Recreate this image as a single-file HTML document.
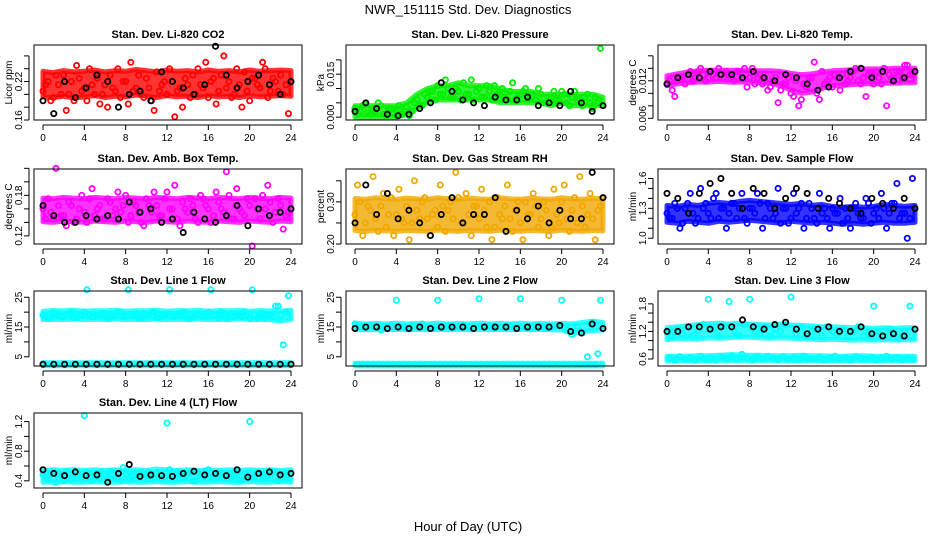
<!DOCTYPE html>
<html><head><meta charset="utf-8"><style>
html,body{margin:0;padding:0;background:#fff;}
svg{display:block;font-family:"Liberation Sans",sans-serif;}
</style></head><body>
<svg id="chart" width="936" height="540" viewBox="0 0 936 540">
<rect width="936" height="540" fill="#fff"/>
<text x="468" y="14" font-size="13" text-anchor="middle">NWR_151115  Std. Dev. Diagnostics</text>
<text x="468" y="531" font-size="13" text-anchor="middle">Hour of Day (UTC)</text>
</svg>
<script>
const xTicks=[0,4,8,12,16,20,24];
const titles=["Stan. Dev. Li-820 CO2","Stan. Dev. Li-820 Pressure","Stan. Dev. Li-820 Temp.","Stan. Dev. Amb. Box Temp.","Stan. Dev. Gas Stream RH","Stan. Dev. Sample Flow","Stan. Dev. Line 1 Flow","Stan. Dev. Line 2 Flow","Stan. Dev. Line 3 Flow","Stan. Dev. Line 4 (LT) Flow"];
const yTitles=["Licor ppm","kPa","degrees C","degrees C","percent","ml/min","ml/min","ml/min","ml/min","ml/min"];
const yRanges=[[0.16,0.277],[-0.001,0.0252],[0.00573,0.01773],[0.108,0.219],[0.20,0.378],[0.942,1.695],[1.9,27.1],[1.9,27.1],[0.447,2.08],[0.303,1.316]];
const yTickVals=[[0.16,0.18,0.20,0.22,0.24,0.26],[0,0.005,0.010,0.015,0.020],[0.006,0.008,0.010,0.012,0.014,0.016],[0.12,0.14,0.16,0.18,0.20,0.22],[0.20,0.25,0.30,0.35],[1.0,1.1,1.2,1.3,1.4,1.5,1.6],[5,10,15,20,25],[5,10,15,20,25],[0.6,0.8,1.0,1.2,1.4,1.6,1.8],[0.4,0.6,0.8,1.0,1.2]];
const yTickLabels=[["0.16","","","0.22","",""],["0.000","","","0.015",""],["0.006","","","0.012","",""],["0.12","","","0.18","",""],["0.20","","0.30",""],["1.0","","","1.3","","","1.6"],["5","","15","","25"],["5","","15","","25"],["0.6","","","1.2","","","1.8"],["0.4","","0.8","","1.2"]];
const colors=["#ff0000","#00ee00","#ff00ff","#ff00ff","#f0a800","#0000ff","#00ffff","#00ffff","#00ffff","#00ffff"];
// hourly extent of the dense point cloud (hours 0..24)
const bandLo=[
[.196,.195,.197,.194,.196,.198,.195,.197,.196,.199,.197,.195,.198,.196,.197,.195,.198,.196,.197,.195,.198,.196,.197,.198,.197],
[.000,.000,.000,.000,.000,.001,.003,.005,.006,.006,.006,.006,.006,.006,.005,.005,.005,.005,.005,.004,.005,.004,.004,.004,.004],
[.0112,.0115,.0117,.0118,.0118,.0119,.0118,.0118,.0118,.0117,.0116,.0112,.0105,.0100,.0102,.0108,.0112,.0113,.0114,.0115,.0115,.0116,.0116,.0117,.0117],
[.141,.140,.142,.141,.140,.142,.141,.140,.142,.141,.140,.142,.141,.140,.142,.141,.140,.142,.141,.140,.142,.141,.140,.142,.141],
[.232,.230,.233,.231,.230,.232,.231,.230,.233,.231,.230,.232,.231,.230,.233,.231,.230,.232,.231,.230,.233,.231,.230,.232,.231],
[1.16,1.15,1.17,1.16,1.15,1.17,1.16,1.17,1.18,1.17,1.16,1.15,1.17,1.16,1.15,1.16,1.15,1.14,1.15,1.14,1.15,1.16,1.15,1.15,1.16],
[17.5,17.6,17.5,17.7,17.5,17.6,17.5,17.7,17.5,17.6,17.5,17.7,17.5,17.6,17.5,17.7,17.5,17.6,17.5,17.7,17.5,17.6,17.5,17.0,17.6],
[14.2,14.1,14.2,14.1,14.2,14.1,14.2,14.1,14.2,14.1,14.2,14.1,14.2,14.1,14.2,14.1,14.2,14.1,14.2,14.1,14.0,13.0,13.5,13.8,14.0],
[1.02,1.05,1.04,1.03,1.06,1.05,1.06,1.08,1.07,1.06,1.05,1.06,1.05,1.04,1.03,1.02,1.03,1.02,1.01,1.02,1.01,1.02,1.01,1.02,1.02],
[.38,.38,.39,.38,.38,.39,.38,.38,.39,.38,.38,.39,.38,.38,.39,.38,.38,.39,.38,.38,.39,.38,.38,.39,.38]];
const bandHi=[
[.236,.234,.237,.235,.236,.238,.235,.237,.236,.239,.237,.235,.238,.236,.237,.235,.238,.236,.237,.235,.238,.236,.237,.238,.237],
[.004,.004,.004,.004,.004,.005,.008,.010,.011,.011,.012,.011,.011,.011,.010,.009,.009,.009,.008,.008,.008,.008,.008,.008,.007],
[.0128,.0131,.0134,.0136,.0137,.0137,.0137,.0137,.0136,.0136,.0136,.0135,.0132,.0130,.0131,.0134,.0136,.0137,.0138,.0139,.0139,.0139,.0140,.0140,.0140],
[.176,.175,.177,.176,.175,.177,.176,.175,.177,.176,.175,.177,.176,.175,.177,.176,.175,.177,.176,.175,.177,.176,.175,.177,.176],
[.308,.306,.310,.307,.306,.309,.307,.306,.310,.307,.306,.309,.307,.306,.310,.307,.306,.309,.307,.306,.310,.307,.306,.309,.307],
[1.33,1.32,1.34,1.33,1.35,1.36,1.35,1.37,1.38,1.37,1.36,1.35,1.34,1.35,1.33,1.34,1.32,1.31,1.32,1.31,1.32,1.34,1.33,1.32,1.33],
[20.3,20.5,20.4,20.6,20.3,20.5,20.4,20.6,20.3,20.5,20.4,20.6,20.3,20.5,20.4,20.6,20.3,20.5,20.4,20.6,20.3,20.5,20.4,20.3,20.6],
[16.3,16.0,16.2,16.0,16.3,16.0,16.2,16.0,16.3,16.0,16.2,16.0,16.3,16.0,16.2,16.0,16.3,16.0,16.2,16.0,16.2,16.0,16.5,17.0,16.5],
[1.28,1.30,1.32,1.35,1.37,1.38,1.36,1.38,1.36,1.35,1.34,1.36,1.34,1.33,1.32,1.30,1.30,1.29,1.28,1.28,1.27,1.28,1.27,1.28,1.28],
[.54,.55,.54,.55,.54,.55,.54,.55,.54,.55,.54,.56,.55,.54,.55,.54,.55,.54,.55,.54,.55,.54,.55,.54,.55]];
const band2Lo=[null,null,null,null,null,null,
[2.0,2.0,2.0,2.0,2.0,2.0,2.0,2.0,2.0,2.0,2.0,2.0,2.0,2.0,2.0,2.0,2.0,2.0,2.0,2.0,2.0,2.0,2.0,2.0,2.0],
[1.95,1.95,1.95,1.95,1.95,1.95,1.95,1.95,1.95,1.95,1.95,1.95,1.95,1.95,1.95,1.95,1.95,1.95,1.95,1.95,1.95,1.95,1.95,1.95,1.95],
[0.56,0.56,0.56,0.56,0.56,0.57,0.57,0.57,0.57,0.57,0.57,0.57,0.56,0.56,0.56,0.56,0.56,0.56,0.56,0.56,0.56,0.56,0.56,0.56,0.56],
null];
const band2Hi=[null,null,null,null,null,null,
[3.0,3.0,3.0,3.0,3.0,3.0,3.0,3.0,3.0,3.0,3.0,3.0,3.0,3.0,3.0,3.0,3.0,3.0,3.0,3.0,3.0,3.0,3.0,3.0,3.0],
[2.8,2.8,2.8,2.8,2.8,2.8,2.8,2.8,2.8,2.8,2.8,2.8,2.8,2.8,2.8,2.8,2.8,2.8,2.8,2.8,2.8,2.8,2.8,2.8,2.8],
[0.66,0.66,0.66,0.67,0.67,0.68,0.69,0.69,0.68,0.68,0.67,0.67,0.67,0.68,0.67,0.67,0.66,0.66,0.67,0.67,0.66,0.66,0.66,0.66,0.66],
null];
const seriesA=[
[0.205,0.22,0.195,0.215,0.23,0.20,0.19,0.225,0.21,0.24,0.20,0.185,0.215,0.23,0.205,0.195,0.22,0.25,0.21,0.20,0.225,0.19,0.235,0.215,0.20,0.22,0.205,0.18,0.215,0.23,0.24,0.21,0.195,0.225,0.205,0.26,0.22,0.20,0.215,0.235,0.19,0.225,0.21,0.24,0.205,0.22,0.23,0.215],
[.003,.002,.0045,.001,.002,.004,.0005,.003,.002,.001,.0035,.002,.006,.004,.007,.009,.011,.008,.010,.007,.009,.012,.008,.006,.010,.007,.009,.011,.008,.007,.009,.006,.008,.010,.007,.006,.008,.005,.007,.006,.009,.005,.007,.006,.004,.008,.003,.005],
[.0115,.0105,.012,.0125,.013,.012,.0135,.013,.0125,.013,.014,.0125,.013,.012,.0135,.014,.0125,.0115,.013,.012,.011,.0125,.0105,.0115,.010,.012,.009,.011,.0125,.010,.0135,.012,.011,.0125,.013,.012,.0135,.012,.0125,.013,.0115,.0125,.014,.013,.0125,.0135,.0145,.013],
[.16,.175,.145,.165,.15,.17,.14,.16,.155,.175,.15,.165,.145,.17,.16,.155,.18,.15,.165,.14,.175,.155,.165,.15,.185,.16,.145,.17,.155,.165,.14,.175,.16,.15,.17,.155,.18,.145,.16,.15,.165,.175,.145,.16,.17,.155,.165,.15],
[.27,.30,.25,.28,.26,.29,.24,.31,.27,.26,.29,.25,.28,.30,.26,.27,.24,.29,.28,.26,.31,.25,.27,.29,.26,.28,.30,.24,.27,.29,.26,.28,.25,.30,.27,.29,.26,.28,.24,.27,.30,.26,.28,.25,.29,.27,.26,.28],
[1.25,1.2,1.3,1.15,1.35,1.25,1.2,1.3,1.25,1.4,1.2,1.3,1.25,1.35,1.3,1.2,1.3,1.25,1.35,1.2,1.3,1.25,1.15,1.3,1.2,1.25,1.35,1.2,1.3,1.15,1.25,1.2,1.3,1.25,1.15,1.2,1.3,1.25,1.2,1.35,1.25,1.2,1.3,1.25,1.35,1.2,1.25,1.2],
[19,18,20,19,18.5,19.5,18,19,20,19,18.5,19,19.5,18,19,20,18.5,19,19.5,18,19,20,18,19,19.5,18.5,19,20,18,19,19,18.5,20,19,18,19.5,19,18.5,19,20,18,19,19.5,18,19,22,19,20],
[16,15,14.5,15.5,15,14,15,15.5,24,15,14.5,15.5,15,16,15,14.5,24,15,15.5,14.5,15,15.5,15,14.5,24.5,15,15.5,14.5,15,15,15.5,14.5,24.5,15,14.5,15.5,15,14.5,15,15.5,24,14,12.5,15,13,5,16.5,6],
[1.2,1.1,1.25,1.15,1.3,1.1,1.2,1.35,1.9,1.25,1.1,1.3,1.85,1.2,1.1,1.35,1.9,1.2,1.15,1.3,1.1,1.25,1.2,1.35,1.95,1.15,1.3,1.1,1.2,1.25,1.1,1.3,1.2,1.15,1.25,1.1,1.2,1.3,1.1,1.15,1.75,1.2,1.1,1.25,1.15,1.05,1.2,1.75],
[.48,.42,.52,.45,.40,.5,.44,.47,1.28,.45,.5,.42,.48,.53,.44,.4,.5,.46,.43,.52,.47,.45,.5,.42,1.18,.46,.52,.43,.48,.4,.5,.45,.55,.42,.47,.44,.5,.46,.41,.49,1.2,.45,.5,.43,.47,.52,.44,.46]];
const seriesB=[
[0.215,0.19,0.23,0.20,0.175,0.22,0.245,0.205,0.19,0.215,0.225,0.20,0.18,0.21,0.24,0.22,0.185,0.205,0.23,0.195,0.21,0.175,0.205,0.22,0.24,0.165,0.21,0.225,0.195,0.20,0.215,0.25,0.22,0.185,0.23,0.21,0.195,0.24,0.18,0.205,0.225,0.215,0.25,0.195,0.225,0.205,0.20,0.17],
[.001,.004,.0015,.003,.005,.001,.003,.0015,.004,.002,.0005,.005,.004,.008,.009,.006,.008,.013,.007,.010,.006,.008,.013,.009,.007,.011,.006,.008,.010,.006,.012,.007,.009,.006,.008,.010,.005,.007,.009,.006,.008,.004,.009,.006,.007,.005,.007,.024],
[.012,.0095,.0125,.0115,.0135,.0125,.014,.012,.0135,.0125,.013,.0135,.0125,.0135,.0125,.011,.014,.0125,.0115,.0105,.012,.0085,.0115,.0125,.0095,.008,.0115,.0125,.015,.009,.0115,.0125,.013,.0105,.0115,.0125,.014,.0115,.0095,.013,.0135,.0115,.008,.0125,.0135,.0125,.0145,.013],
[.145,.155,.22,.15,.135,.165,.145,.18,.14,.19,.16,.145,.175,.15,.185,.165,.14,.17,.155,.135,.165,.185,.15,.175,.16,.195,.135,.16,.175,.145,.18,.165,.14,.185,.16,.215,.145,.19,.155,.175,.105,.16,.18,.195,.14,.175,.13,.155],
[.34,.22,.29,.36,.23,.32,.27,.22,.33,.25,.21,.35,.26,.31,.22,.28,.34,.23,.30,.37,.25,.32,.22,.29,.33,.24,.21,.31,.26,.34,.23,.30,.21,.27,.32,.24,.30,.22,.33,.25,.34,.23,.31,.36,.24,.32,.21,.29],
[1.2,1.35,1.1,1.3,1.45,1.15,1.5,1.35,1.2,1.45,1.3,1.1,1.35,1.2,1.45,1.15,1.3,1.45,1.1,1.35,1.2,1.5,1.3,1.15,1.45,1.3,1.1,1.35,1.2,1.45,1.3,1.1,1.25,1.4,1.3,1.1,1.35,1.2,1.4,1.15,1.3,1.45,1.1,1.35,1.55,1.25,1.0,1.6],
[19,18,19.5,18.5,19,20,18,19,27.5,18.5,19,19.5,18,19,20,18.5,27.5,19,18,19.5,19,20,18,19,27.5,18.5,19,20,18,19.5,19,18.5,27.5,19,20,18,19.5,19,18.5,19,27.5,18,19.5,19,18.5,22,9,25.5],
[2.3,2.3,2.3,2.3,2.3,2.3,2.3,2.3,2.3,2.3,2.3,2.3,2.3,2.3,2.3,2.3,2.3,2.3,2.3,2.3,2.3,2.3,2.3,2.3,2.3,2.3,2.3,2.3,2.3,2.3,2.3,2.3,2.3,2.3,2.3,2.3,2.3,2.3,2.3,2.3,2.3,2.3,2.3,2.3,2.3,2.3,2.3,24],
[0.62,0.58,0.65,0.6,0.63,0.57,0.66,0.6,0.62,0.58,0.64,0.6,0.67,0.6,0.7,0.62,0.58,0.64,0.6,0.66,0.62,0.58,0.65,0.6,0.63,0.59,0.66,0.61,0.6,0.64,0.58,0.62,0.66,0.6,0.63,0.58,0.65,0.61,0.6,0.64,0.58,0.62,0.66,0.6,0.63,0.59,0.61,0.6],
[.44,.5,.38,.47,.53,.42,.48,.45,.51,.4,.46,.52,.43,.49,.45,.58,.41,.47,.5,.44,.52,.43,.48,.45,.55,.42,.49,.46,.51,.4,.47,.53,.44,.48,.5,.43,.46,.52,.41,.49,.45,.5,.43,.47,.52,.4,.48,.45]];
const seriesBlack=[
[0.19,0.17,0.22,0.195,0.21,0.23,0.22,0.18,0.20,0.205,0.19,0.235,0.22,0.21,0.20,0.215,0.275,0.23,0.21,0.22,0.23,0.215,0.20,0.22],
[.002,.005,.003,.001,.0005,.001,.003,.005,.012,.009,.006,.005,.004,.007,.006,.006,.007,.004,.005,.004,.009,.005,.002,.004],
[.0115,.0125,.013,.0125,.0135,.013,.013,.0125,.0135,.0125,.012,.013,.0125,.0115,.0105,.011,.0125,.0135,.014,.0125,.0135,.012,.0125,.0135],
[.165,.15,.14,.14,.15,.145,.15,.145,.17,.155,.16,.14,.145,.125,.155,.145,.14,.15,.165,.135,.16,.15,.155,.16],
[.25,.34,.27,.32,.26,.28,.25,.22,.27,.31,.25,.27,.27,.31,.23,.28,.26,.29,.25,.28,.26,.26,.37,.31],
[1.45,1.4,1.25,1.45,1.55,1.6,1.45,1.3,1.5,1.45,1.3,1.4,1.5,1.45,1.3,1.4,1.35,1.3,1.25,1.4,1.35,1.3,1.4,1.3],
[2.5,2.5,2.5,2.5,2.5,2.5,2.5,2.5,2.5,2.5,2.5,2.5,2.5,2.5,2.5,2.5,2.5,2.5,2.5,2.5,2.5,2.5,2.5,2.5],
[14.5,15,15,14.5,15,14.5,15,14.5,15,15,15,14.5,15,15,15,14.5,15,15,15,15.5,13.5,13,16,14.5],
[1.2,1.2,1.3,1.3,1.25,1.3,1.3,1.45,1.3,1.25,1.35,1.4,1.25,1.15,1.25,1.3,1.2,1.2,1.3,1.15,1.1,1.15,1.1,1.25],
[.55,.5,.47,.52,.47,.48,.38,.5,.62,.46,.48,.47,.46,.5,.53,.48,.5,.47,.55,.45,.5,.52,.48,.5]];

const NS="http://www.w3.org/2000/svg";
const svg=document.getElementById('chart');
function mk(tag,attrs,parent){const e=document.createElementNS(NS,tag);for(const k in attrs)e.setAttribute(k,attrs[k]);(parent||svg).appendChild(e);return e;}
const rowTops=[45,169,291,413];
const colOff=[0,312,624];
const H=75;
for(let p=0;p<10;p++){
  const cx=colOff[p%3], top=rowTops[Math.floor(p/3)], bot=top+H;
  const left=34+cx, right=302+cx;
  const xs=h=>43+cx+h*248/24;
  const [y0,y1]=yRanges[p];
  const ys=v=>bot-(v-y0)/(y1-y0)*H;
  const g=mk('g',{});
  
  
  const t=mk('text',{x:(left+right)/2,y:top-7,'font-size':11,'font-weight':'bold','text-anchor':'middle'},g);
  t.textContent=titles[p];
  
  
  const yt=mk('text',{x:0,y:0,'font-size':10,'text-anchor':'middle',transform:`translate(${left-22},${top+H/2}) rotate(-90)`},g);
  yt.textContent=yTitles[p];
  
  
  const drawBand=(lo,hi)=>{
    if(!lo) return;
    let d='';
    lo.forEach((v,i)=>{d+=(i?'L':'M')+xs(i).toFixed(1)+','+ys(v).toFixed(1);});
    for(let i=hi.length-1;i>=0;i--) d+='L'+xs(i).toFixed(1)+','+ys(hi[i]).toFixed(1);
    const b=mk('path',{d:d+'Z',fill:colors[p],'fill-opacity':0.8,stroke:colors[p],'stroke-width':5,'stroke-opacity':0.8,'stroke-linejoin':'round'},g);
    
    
  };
  drawBand(bandLo[p],bandHi[p]);
  drawBand(band2Lo[p],band2Hi[p]);
  const pts=mk('g',{fill:'none','stroke-width':1.8},g);
  
  
  const drawPt=(h,v,col)=>{
    const c=mk('circle',{cx:xs(h),cy:ys(v),r:2.6,stroke:col},pts);
    
    
  };
  seriesA[p].forEach((v,i)=>drawPt(i*0.5,v,colors[p]));
  seriesB[p].forEach((v,i)=>drawPt(i*0.5+0.25,v,colors[p]));
  seriesBlack[p].forEach((v,i)=>drawPt(i*24/23,v,'#000'));
  const box=mk('rect',{x:left,y:top,width:right-left,height:H,fill:'none',stroke:'#000','stroke-width':1},g);
  
  
  mk('line',{x1:xs(0),x2:xs(24),y1:bot+5,y2:bot+5,stroke:'#000'},g);
  xTicks.forEach(h=>{
    mk('line',{x1:xs(h),x2:xs(h),y1:bot+5,y2:bot+10,stroke:'#000'},g);
    const l=mk('text',{x:xs(h),y:bot+21,'font-size':10,'text-anchor':'middle'},g);
    l.textContent=h;
    
    
  });
  const tv=yTickVals[p];
  mk('line',{x1:left-5,x2:left-5,y1:ys(tv[0]),y2:ys(tv[tv.length-1]),stroke:'#000'},g);
  tv.forEach((v,i)=>{
    mk('line',{x1:left-10,x2:left-5,y1:ys(v),y2:ys(v),stroke:'#000'},g);
    if(yTickLabels[p][i]){
      const l=mk('text',{x:0,y:0,'font-size':10,'text-anchor':'middle',transform:`translate(${left-12},${ys(v)}) rotate(-90)`},g);
      l.textContent=yTickLabels[p][i];
      
      
    }
  });
}
</script>
</body></html>
